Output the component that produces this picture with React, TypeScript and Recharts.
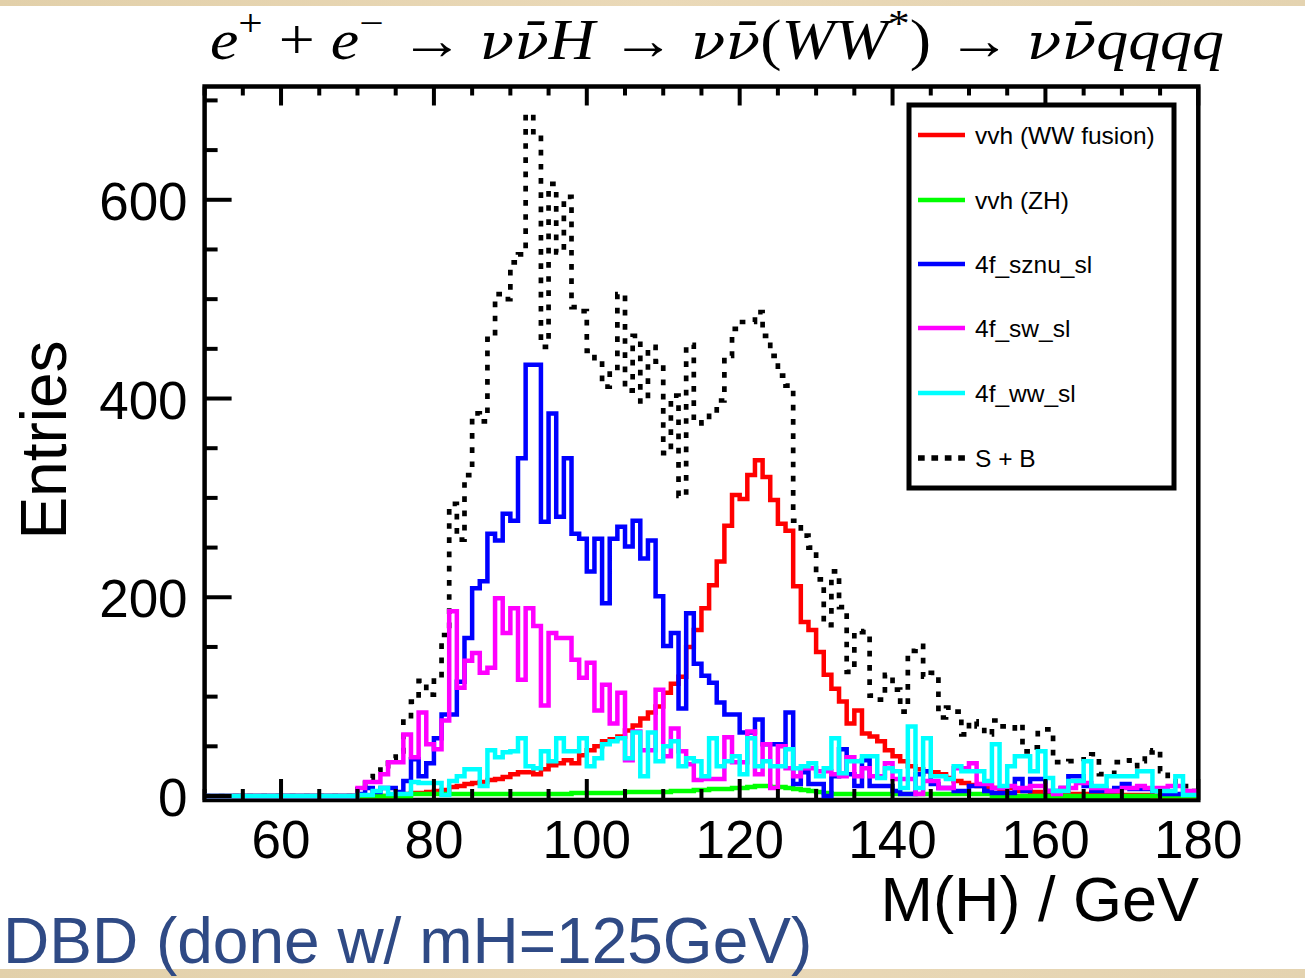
import React from 'react';
import { LineChart, Line, XAxis, YAxis, ReferenceArea, Legend } from 'recharts';

// Histogram: 1 GeV bins, lower edges 50 ... 179
const FIRST_EDGE = 50;

const SB_TOTAL = [
  0, 0, 0, 0, 0, 0, 0, 0, 0, 0,
  0, 0, 0, 0, 0, 0, 0, 0, 0, 0,
  10, 18, 25, 30, 38, 45, 78, 95, 116, 102,
  119, 162, 294, 258, 323, 385, 377, 460, 505, 500,
  537, 545, 686, 668, 452, 616, 547, 603, 492, 488,
  448, 438, 412, 428, 505, 408, 463, 397, 452, 437,
  345, 403, 302, 454, 375, 376, 385, 398, 443, 470,
  477, 477, 487, 463, 443, 423, 413, 277, 262, 250,
  218, 172, 226, 190, 125, 166, 165, 101, 97, 122,
  107, 85, 146, 151, 120, 124, 79, 89, 85, 62,
  75, 70, 62, 76, 70, 68, 72, 45, 49, 67,
  67, 34, 34, 35, 35, 40, 42, 22, 22, 34,
  36, 30, 35, 44, 46, 25, 15, 10, 10, 5,
];

const VVH_WW = [
  0, 0, 0, 0, 0, 0, 0, 0, 0, 0,
  0, 0, 0, 0, 0, 0, 0, 0, 0, 0,
  0, 0, 0, 0, 0, 1, 2, 3, 3, 4,
  5, 6, 9, 10, 12, 13, 14, 16, 17, 19,
  22, 24, 24, 22, 27, 31, 33, 36, 33, 41,
  46, 50, 55, 57, 60, 66, 71, 78, 84, 90,
  104, 113, 120, 150, 167, 189, 212, 236, 272, 303,
  299, 323, 338, 321, 298, 274, 267, 211, 175, 167,
  145, 122, 108, 95, 73, 86, 63, 60, 55, 46,
  40, 35, 30, 27, 25, 24, 22, 18, 15, 13,
  11, 10, 9, 8, 7, 8, 5, 5, 4, 4,
  3, 3, 3, 2, 2, 2, 2, 1, 1, 1,
  1, 1, 1, 1, 0, 0, 0, 0, 0, 0,
];

const VVH_ZH = [
  0, 0, 0, 0, 0, 0, 0, 0, 0, 0,
  0, 0, 0, 0, 0, 0, 0, 0, 0, 0,
  0, 0, 0, 0, 0, 0, 0, 2, 2, 2,
  2, 2, 2, 2, 2, 2, 2, 2, 2, 2,
  2, 2, 2, 2, 2, 2, 2, 2, 3, 3,
  3, 3, 3, 3, 3, 4, 4, 4, 4, 4,
  4, 5, 5, 5, 6, 6, 7, 7, 7, 8,
  8, 9, 10, 10, 9, 9, 8, 7, 6, 5,
  4, 3, 2, 2, 2, 2, 2, 2, 2, 2,
  2, 2, 2, 2, 2, 2, 2, 2, 2, 2,
  2, 2, 2, 0, 0, 0, 0, 0, 0, 0,
  0, 0, 0, 0, 0, 0, 0, 0, 0, 0,
  0, 0, 0, 0, 0, 0, 0, 0, 0, 0,
];

const SZNU_SL = [
  0, 0, 0, 0, 0, 0, 0, 0, 0, 0,
  0, 0, 0, 0, 0, 0, 0, 0, 0, 0,
  2, 8, 4, 8, 8, 4, 15, 37, 20, 33,
  58, 82, 82, 115, 159, 209, 216, 264, 257, 284,
  277, 340, 434, 434, 276, 385, 281, 340, 264, 259,
  226, 259, 194, 259, 271, 251, 277, 239, 257, 201,
  151, 164, 88, 184, 133, 121, 114, 94, 82, 82,
  64, 64, 77, 52, 52, 52, 84, 12, 24, 12,
  12, 0, 20, 47, 22, 10, 36, 10, 10, 10,
  5, 2, 2, 22, 25, 12, 8, 8, 5, 5,
  10, 10, 5, 3, 3, 3, 17, 5, 17, 17,
  5, 5, 8, 20, 20, 10, 5, 5, 5, 8,
  12, 7, 7, 7, 5, 2, 2, 2, 2, 2,
];

const SW_SL = [
  0, 0, 0, 0, 0, 0, 0, 0, 0, 0,
  0, 0, 0, 0, 0, 0, 0, 0, 0, 0,
  8, 14, 14, 22, 34, 34, 62, 39, 84, 52,
  47, 76, 186, 109, 136, 144, 124, 129, 199, 164,
  189, 117, 189, 171, 91, 164, 159, 159, 137, 119,
  134, 86, 112, 73, 104, 36, 65, 46, 46, 107,
  40, 68, 45, 32, 16, 17, 17, 17, 59, 34,
  34, 65, 22, 52, 8, 50, 28, 20, 28, 28,
  25, 25, 22, 20, 39, 20, 28, 20, 20, 33,
  17, 17, 17, 2, 15, 15, 8, 8, 28, 28,
  33, 12, 12, 8, 8, 10, 8, 8, 10, 10,
  5, 2, 8, 8, 13, 13, 8, 8, 5, 5,
  8, 8, 10, 8, 8, 8, 10, 10, 5, 5,
];

const WW_SL = [
  0, 0, 0, 0, 0, 0, 0, 0, 0, 0,
  0, 0, 0, 0, 0, 0, 0, 0, 0, 0,
  1, 1, 5, 8, 2, 2, 2, 14, 13, 13,
  13, 1, 15, 20, 27, 27, 10, 46, 39, 44,
  45, 58, 30, 28, 45, 35, 58, 45, 45, 58,
  30, 38, 52, 55, 58, 38, 64, 20, 64, 35,
  50, 55, 30, 38, 35, 20, 58, 30, 35, 40,
  22, 58, 30, 35, 30, 30, 47, 28, 30, 33,
  20, 28, 58, 23, 35, 35, 40, 40, 18, 28,
  25, 8, 70, 8, 58, 20, 20, 17, 30, 25,
  25, 25, 15, 52, 10, 30, 40, 40, 25, 45,
  18, 5, 5, 15, 15, 35, 10, 10, 20, 20,
  20, 20, 25, 25, 5, 5, 5, 20, 1, 1,
];

const X_TICKS = [50, 55, 60, 65, 70, 75, 80, 85, 90, 95, 100, 105, 110, 115, 120, 125, 130, 135, 140, 145, 150, 155, 160, 165, 170, 175, 180];
const X_LABELS = [60, 80, 100, 120, 140, 160, 180];
const Y_TICKS = [0, 50, 100, 150, 200, 250, 300, 350, 400, 450, 500, 550, 600, 650, 700];
const Y_LABELS = [0, 200, 400, 600];
const X_DOMAIN = [50, 180];
const Y_DOMAIN = [0, 714];

const SERIES = [
  { key: 'ww', name: 'vvh (WW fusion)', color: '#ff0000', values: VVH_WW, dash: undefined as string | undefined },
  { key: 'zh', name: 'vvh (ZH)', color: '#00ff00', values: VVH_ZH, dash: undefined },
  { key: 'sznu', name: '4f_sznu_sl', color: '#0000ff', values: SZNU_SL, dash: undefined },
  { key: 'sw', name: '4f_sw_sl', color: '#ff00ff', values: SW_SL, dash: undefined },
  { key: 'wwsl', name: '4f_ww_sl', color: '#00ffff', values: WW_SL, dash: undefined },
  { key: 'sb', name: 'S + B', color: '#000000', values: SB_TOTAL, dash: '5.7 8.5' },
];

// draw order: S+B underneath, then the components
const DRAW_ORDER = ['sb', 'ww', 'zh', 'sznu', 'sw', 'wwsl'];

const rows: Record<string, number>[] = [];
for (let i = 0; i <= SB_TOTAL.length; i++) {
  const j = Math.min(i, SB_TOTAL.length - 1);
  const row: Record<string, number> = { m: FIRST_EDGE + i };
  SERIES.forEach((s) => {
    row[s.key] = s.values[j];
  });
  rows.push(row);
}

const SANS = "'Liberation Sans', Arial, Helvetica, sans-serif";
const SERIF = "'Liberation Serif', 'Times New Roman', 'DejaVu Serif', serif";
const GREEK = "'DejaVu Serif', serif";

const BottomTick = (props: any) => {
  const { x, y, payload } = props;
  const v = payload.value;
  const major = v % 20 === 0;
  return (
    <g>
      <line x1={x} x2={x} y1={y + 4} y2={y + 4 - (major ? 21 : 11)} stroke="#000" strokeWidth={4} />
      {major && X_LABELS.includes(v) ? (
        <text x={x} y={y + 62} textAnchor="middle" fontFamily={SANS} fontSize={53} fill="#000">
          {v}
        </text>
      ) : null}
    </g>
  );
};

const TopTick = (props: any) => {
  const { x, y, payload } = props;
  const major = payload.value % 20 === 0;
  return <line x1={x} x2={x} y1={y} y2={y + (major ? 19 : 9)} stroke="#000" strokeWidth={4} />;
};

const LeftTick = (props: any) => {
  const { x, y, payload } = props;
  const v = payload.value;
  const major = v % 200 === 0;
  return (
    <g>
      <line x1={x} x2={x + (major ? 27 : 13)} y1={y} y2={y} stroke="#000" strokeWidth={4} />
      {major && Y_LABELS.includes(v) ? (
        <text x={x - 17} y={y + 20} textAnchor="end" fontFamily={SANS} fontSize={53} fill="#000">
          {v}
        </text>
      ) : null}
    </g>
  );
};

const RightTick = (props: any) => {
  const { x, y, payload } = props;
  const major = payload.value % 200 === 0;
  return <line x1={x} x2={x - (major ? 26 : 12)} y1={y} y2={y} stroke="#000" strokeWidth={4} />;
};

const LegendBox = () => {
  const rowsY = [35, 100, 164, 228, 293, 358];
  return (
    <svg width={276} height={395} style={{ display: 'block' }}>
      <rect x={5} y={5} width={265} height={383} fill="#fff" stroke="#000" strokeWidth={5} />
      {SERIES.map((s, i) => (
        <g key={s.key}>
          <line
            x1={14}
            x2={61}
            y1={rowsY[i]}
            y2={rowsY[i]}
            stroke={s.color}
            strokeWidth={s.dash ? 5.5 : 4.5}
            strokeDasharray={s.dash ? '6.7 6.7' : undefined}
          />
          <text x={71} y={rowsY[i] + 8.5} fontFamily={SANS} fontSize={24.5} fill="#000">
            {s.name}
          </text>
        </g>
      ))}
    </svg>
  );
};

const NU_NUBAR = '\u03bd\u03bd\u0304';

export default function App() {
  const ordered = DRAW_ORDER.map((k) => SERIES.find((s) => s.key === k)!);
  return (
    <div
      style={{
        position: 'absolute',
        left: 0,
        top: 0,
        width: 1305,
        height: 978,
        background: '#ffffff',
        overflow: 'hidden',
      }}
    >
      <svg width={1305} height={978} style={{ position: 'absolute', left: 0, top: 0 }}>
        <defs>
          <linearGradient id="paper" x1="0" x2="1" y1="0" y2="0">
            <stop offset="0" stopColor="#e2d0aa" />
            <stop offset="0.5" stopColor="#ead9b8" />
            <stop offset="1" stopColor="#e4d3b0" />
          </linearGradient>
        </defs>
        <rect x={0} y={0} width={1305} height={6} fill="url(#paper)" />
        <rect x={0} y={969} width={1305} height={9} fill="url(#paper)" />
      </svg>
      <div style={{ position: 'absolute', left: 0, top: 0 }}>
        <LineChart
          width={1305}
          height={978}
          data={rows}
          margin={{ top: 76.5, right: 96.7, bottom: 122, left: 104.6 }}
        >
          <XAxis
            dataKey="m"
            type="number"
            domain={X_DOMAIN}
            ticks={X_TICKS}
            interval={0}
            tickSize={0}
            tickMargin={0}
            axisLine={false}
            tickLine={false}
            height={60}
            tick={BottomTick}
          />
          <XAxis
            xAxisId="top"
            orientation="top"
            dataKey="m"
            type="number"
            domain={X_DOMAIN}
            ticks={X_TICKS}
            interval={0}
            tickSize={0}
            tickMargin={0}
            axisLine={false}
            tickLine={false}
            height={10}
            tick={TopTick}
          />
          <YAxis
            type="number"
            domain={Y_DOMAIN}
            ticks={Y_TICKS}
            interval={0}
            tickSize={0}
            tickMargin={0}
            axisLine={false}
            tickLine={false}
            width={100}
            tick={LeftTick}
          />
          <YAxis
            yAxisId="right"
            orientation="right"
            type="number"
            domain={Y_DOMAIN}
            ticks={Y_TICKS}
            interval={0}
            tickSize={0}
            tickMargin={0}
            axisLine={false}
            tickLine={false}
            width={10}
            tick={RightTick}
          />
          {ordered.map((s) => (
            <Line
              key={s.key}
              dataKey={s.key}
              name={s.name}
              type="stepAfter"
              stroke={s.color}
              strokeWidth={s.dash ? 4.7 : 4.5}
              strokeDasharray={s.dash}
              dot={false}
              activeDot={false}
              isAnimationActive={false}
              legendType="line"
            />
          ))}
          <ReferenceArea
            x1={50}
            x2={180}
            y1={-4}
            y2={714}
            ifOverflow="visible"
            fill="none"
            fillOpacity={0}
            stroke="#000"
            strokeWidth={4.5}
          />
          <Legend
            layout="vertical"
            align="center"
            verticalAlign="middle"
            wrapperStyle={{ left: 904, top: 100, width: 276, height: 395 }}
            content={() => <LegendBox />}
          />
        </LineChart>
      </div>
      <svg
        width={1305}
        height={978}
        style={{ position: 'absolute', left: 0, top: 0, pointerEvents: 'none' }}
      >
        <text
          x={210}
          y={59}
          fontFamily={SERIF}
          fontSize={56}
          fill="#000"
          textLength={1014}
          lengthAdjust="spacingAndGlyphs"
        >
          <tspan fontStyle="italic">e</tspan>
          <tspan fontSize={38} dy={-23}>{'+'}</tspan>
          <tspan dy={23}>{' + '}</tspan>
          <tspan fontStyle="italic">e</tspan>
          <tspan fontSize={38} dy={-23}>{'\u2212'}</tspan>
          <tspan dy={23}>{' \u2192 '}</tspan>
          <tspan fontStyle="italic" fontFamily={GREEK} fontSize={50}>{NU_NUBAR}</tspan>
          <tspan fontStyle="italic">H</tspan>
          <tspan>{' \u2192 '}</tspan>
          <tspan fontStyle="italic" fontFamily={GREEK} fontSize={50}>{NU_NUBAR}</tspan>
          <tspan>{'('}</tspan>
          <tspan fontStyle="italic">WW</tspan>
          <tspan fontSize={38} dy={-23}>{'*'}</tspan>
          <tspan dy={23}>{')'}</tspan>
          <tspan>{' \u2192 '}</tspan>
          <tspan fontStyle="italic" fontFamily={GREEK} fontSize={50}>{NU_NUBAR}</tspan>
          <tspan fontStyle="italic">qqqq</tspan>
        </text>
        <text
          x={66}
          y={440}
          transform="rotate(-90 66 440)"
          textAnchor="middle"
          fontFamily={SANS}
          fontSize={64}
          fill="#000"
        >
          Entries
        </text>
        <text x={1199} y={921} textAnchor="end" fontFamily={SANS} fontSize={63} fill="#000">
          M(H) / GeV
        </text>
        <text x={3} y={963} fontFamily={SANS} fontSize={64} fill="#2f4a85">
          DBD (done w/ mH=125GeV)
        </text>
      </svg>
    </div>
  );
}
